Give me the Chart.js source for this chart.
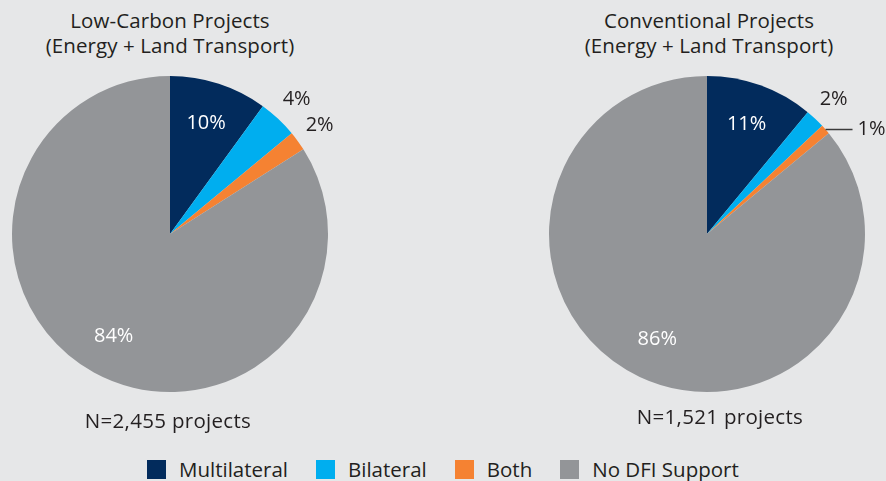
<!DOCTYPE html>
<html>
<head>
<meta charset="utf-8">
<script src="https://cdn.jsdelivr.net/npm/chart.js@4.4.1/dist/chart.umd.min.js"></script>
<style>
  html, body { margin: 0; padding: 0; }
  body { width: 886px; height: 481px; background: #e6e7e8; position: relative; overflow: hidden;
         font-family: "Open Sans", "Noto Sans", sans-serif; color: #231f20; }
  canvas { position: absolute; }
  .title { position: absolute; width: 340px; text-align: center; font-size: 20.5px; line-height: 25px; letter-spacing: 0.1px; }
  .count { position: absolute; width: 340px; text-align: center; font-size: 20.5px; line-height: 24px; letter-spacing: 0.3px; }
  #legend { position: absolute; left: 147px; top: 458px; height: 22px; display: flex; align-items: center; font-size: 20.5px; white-space: nowrap; }
  #legend span.box { display: inline-block; width: 19px; height: 19px; margin-right: 13px; }
  #legend span.item { display: inline-flex; align-items: center; margin-right: 28px; }
</style>
</head>
<body>
<div class="title" id="title0" style="left:0px; top:8px;"></div>
<div class="title" id="title1" style="left:539px; top:8px;"></div>
<canvas id="pie0" width="360" height="350" style="left:0px; top:60px;"></canvas>
<canvas id="pie1" width="366" height="350" style="left:520px; top:60px;"></canvas>
<div class="count" id="count0" style="left:-2px; top:408px;"></div>
<div class="count" id="count1" style="left:550px; top:404px;"></div>
<div id="legend"></div>
<script>
const categories = ["Multilateral", "Bilateral", "Both", "No DFI Support"];
const lowCarbonShares = [10, 4, 2, 84];
const conventionalShares = [11, 2, 1, 86];
const chartTitles = [
  ["Low-Carbon Projects", "(Energy + Land Transport)"],
  ["Conventional Projects", "(Energy + Land Transport)"]
];
const sampleSizes = ["N=2,455 projects", "N=1,521 projects"];
const sliceColors = ["#022b5c", "#00aeef", "#f58232", "#939598"];

// percentage labels: big slices inside, small ones outside, tiny ones with a leader line
const sliceLabels = {
  id: "sliceLabels",
  afterDatasetsDraw(chart) {
    const ctx = chart.ctx;
    const values = chart.data.datasets[0].data;
    const meta = chart.getDatasetMeta(0);
    ctx.save();
    ctx.font = "20px 'Open Sans', 'Noto Sans', sans-serif";
    ctx.textBaseline = "middle";
    meta.data.forEach((arc, i) => {
      const p = arc.getProps(["x", "y", "startAngle", "endAngle", "outerRadius"], true);
      const mid = (p.startAngle + p.endAngle) / 2;
      const v = values[i];
      const text = v + "%";
      if (v >= 5) {
        const r = p.outerRadius * 0.74;
        ctx.fillStyle = "#ffffff";
        ctx.textAlign = "center";
        ctx.fillText(text, p.x + Math.cos(mid) * r, p.y + Math.sin(mid) * r);
      } else if (v > 1) {
        const r = p.outerRadius + 27;
        ctx.fillStyle = "#231f20";
        ctx.textAlign = "center";
        ctx.fillText(text, p.x + Math.cos(mid) * r, p.y + Math.sin(mid) * r);
      } else {
        const sx = p.x + Math.cos(mid) * p.outerRadius;
        const sy = p.y + Math.sin(mid) * p.outerRadius;
        ctx.strokeStyle = "#3a3a3a";
        ctx.lineWidth = 1.5;
        ctx.beginPath();
        ctx.moveTo(sx, sy);
        ctx.lineTo(sx + 27, sy);
        ctx.stroke();
        ctx.fillStyle = "#231f20";
        ctx.textAlign = "left";
        ctx.fillText(text, sx + 32, sy);
      }
    });
    ctx.restore();
  }
};

function makePie(id, values, padding) {
  return new Chart(document.getElementById(id), {
    type: "pie",
    data: {
      labels: categories,
      datasets: [{
        data: values,
        backgroundColor: sliceColors,
        borderWidth: 0
      }]
    },
    options: {
      responsive: false,
      animation: false,
      layout: { padding: padding },
      plugins: {
        legend: { display: false },
        tooltip: { enabled: false }
      }
    },
    plugins: [sliceLabels]
  });
}

makePie("pie0", lowCarbonShares, { left: 12, right: 32, top: 16, bottom: 18 });
makePie("pie1", conventionalShares, { left: 29, right: 21, top: 16, bottom: 18 });

chartTitles.forEach((lines, i) => {
  document.getElementById("title" + i).innerHTML = lines.join("<br>");
});
sampleSizes.forEach((s, i) => {
  document.getElementById("count" + i).textContent = s;
});

const legend = document.getElementById("legend");
categories.forEach((name, i) => {
  const item = document.createElement("span");
  item.className = "item";
  const box = document.createElement("span");
  box.className = "box";
  box.style.background = sliceColors[i];
  item.appendChild(box);
  item.appendChild(document.createTextNode(name));
  legend.appendChild(item);
});
</script>
</body>
</html>
